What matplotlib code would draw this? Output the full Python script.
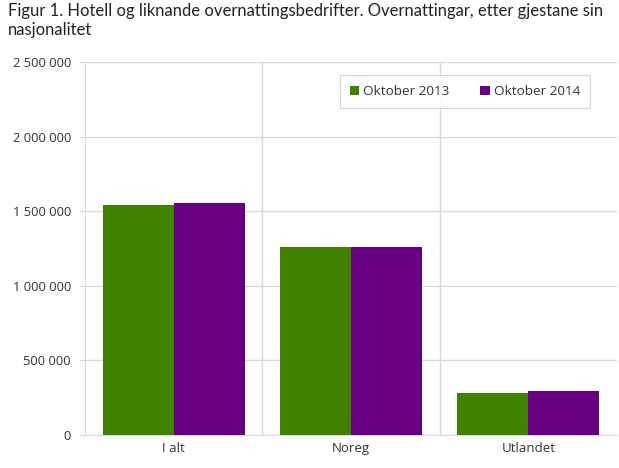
import numpy as np
import matplotlib.pyplot as plt

# Overnattingar etter nasjonalitet
categories = ["I alt", "Noreg", "Utlandet"]
okt_2013 = [1539000, 1257000, 284000]
okt_2014 = [1552000, 1257000, 297000]
series_labels = ["Oktober 2013", "Oktober 2014"]
yticks = [0, 500000, 1000000, 1500000, 2000000, 2500000]

GREEN = "#418100"
PURPLE = "#690083"
GRID = "#d9d9d9"

plt.rcParams["font.family"] = ["Open Sans", "DejaVu Sans"]

W, H = 619, 468
fig = plt.figure(figsize=(W / 100, H / 100), dpi=100)
ax = fig.add_axes([85 / W, (H - 435) / H, (617 - 85) / W, (435 - 62) / H])

x = np.arange(len(categories))
bw = 0.4
ax.bar(x - bw / 2, okt_2013, width=bw, color=GREEN, label=series_labels[0], zorder=3)
ax.bar(x + bw / 2, okt_2014, width=bw, color=PURPLE, label=series_labels[1], zorder=3)

ax.set_xlim(-0.5, len(categories) - 0.5)
ax.set_ylim(0, 2500000)
ax.set_yticks(yticks)
ax.set_yticklabels([f"{v:,}".replace(",", " ") for v in yticks])
ax.set_xticks(x)
ax.set_xticklabels(categories)

# gridlines
for v in yticks:
    ax.axhline(v, color=GRID, lw=1, zorder=1)
for b in np.arange(0.5, len(categories) - 0.5, 1):
    ax.axvline(b, color=GRID, lw=1, zorder=1)

for s in ["top", "right"]:
    ax.spines[s].set_visible(False)
ax.spines["left"].set_color(GRID)
ax.spines["bottom"].set_color(GRID)
ax.tick_params(axis="y", length=4, color=GRID, labelsize=9.3, labelcolor="#333333", pad=6)
ax.tick_params(axis="x", length=0, labelsize=9.5, labelcolor="#333333", pad=5)

leg = ax.legend(loc="upper right", bbox_to_anchor=(0.95, 0.965), ncol=2, frameon=True,
                fancybox=False, fontsize=9.7, handlelength=0.7, handleheight=0.7,
                handletextpad=0.3, columnspacing=2.3, borderpad=0.75,
                borderaxespad=0)
leg.get_frame().set_edgecolor("#cccccc")
leg.get_frame().set_linewidth(0.8)
for t in leg.get_texts():
    t.set_color("#333333")

fig.text(8 / W, 1 - 3 / H,
         "Figur 1. Hotell og liknande overnattingsbedrifter. Overnattingar, etter gjestane sin\nnasjonalitet",
         ha="left", va="top", fontsize=12, color="#222222", linespacing=1.2,
         family=["Lato", "DejaVu Sans"])

fig.savefig("out.png", dpi=100)
